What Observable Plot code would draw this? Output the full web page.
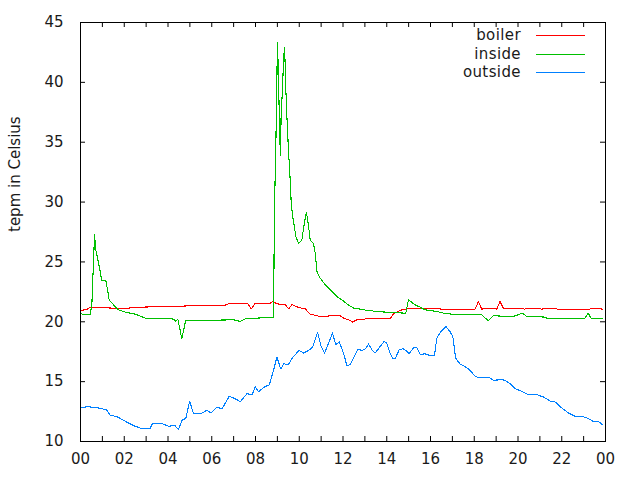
<!DOCTYPE html>
<html><head><meta charset="utf-8">
<script src="https://cdn.jsdelivr.net/npm/d3@7"></script>
<script src="https://cdn.jsdelivr.net/npm/@observablehq/plot@0.6"></script>
<style>
body{margin:0;background:#fff;}
#wrap{width:640px;height:480px;}
</style></head><body><div id="wrap"></div>
<script>
// ---- data ----
const seriesNames = ["boiler", "inside", "outside"];
const seriesColors = ["#ff0000", "#00c000", "#0080ff"];

const boilerHours = [0,0.3,0.44,0.82,1.5,2.19,2.5,3.26,4.32,4.5,5.39,6.07,6.62,6.77,7.66,7.81,7.96,8.22,8.68,8.8,8.98,9.36,9.51,9.67,9.97,10.27,10.5,10.96,11.49,11.87,12.02,12.25,12.45,12.63,12.94,13.09,13.39,13.55,14.16,14.31,14.46,14.69,14.92,15.45,16.44,16.47,18.04,18.19,18.34,18.8,19.03,19.18,19.33,19.86,20.02,20.3,20.5,20.78,21.08,21.62,21.8,23.29,23.44,23.85];
const boilerValues = [20.94,21.03,21.2,21.19,21.14,21.14,21.2,21.25,21.25,21.3,21.36,21.36,21.39,21.5,21.5,21.08,21.5,21.56,21.56,21.69,21.5,21.42,21.08,21.44,21.19,21.08,20.64,20.44,20.5,20.5,20.31,20.17,19.97,20.17,20.17,20.31,20.31,20.25,20.25,20.67,20.81,21.0,21.08,21.14,21.14,21.06,21.06,21.69,21.06,21.14,21.06,21.69,21.14,21.08,21.14,21.06,21.14,21.14,21.06,21.14,21.06,21.06,21.14,21.06];

const insideHours = [0,0.14,0.44,0.52,0.55,0.59,0.64,0.7,0.78,0.9,0.97,1.16,1.25,1.31,1.51,1.74,2.04,2.5,2.95,3.79,4.25,4.35,4.45,4.55,4.63,4.7,4.81,5.71,7.0,7.31,7.53,8.3,8.83,8.86,8.93,8.98,9.0,9.03,9.07,9.11,9.14,9.17,9.23,9.28,9.32,9.35,9.38,9.42,9.47,9.52,9.57,9.63,9.7,9.85,9.97,10.12,10.23,10.33,10.42,10.5,10.65,10.73,10.81,10.96,11.19,11.5,11.72,11.95,12.18,12.48,12.71,12.94,13.55,14.16,14.87,14.99,15.3,15.53,15.75,16.29,16.59,16.98,17.58,18.34,18.64,18.87,19.78,20.2,20.4,20.7,21.23,21.3,23.06,23.21,23.33,23.85];
const insideValues = [20.72,20.58,20.58,21.42,23.08,24.75,27.25,26.0,25.31,24.19,23.42,23.42,22.53,21.83,21.42,21.0,20.81,20.64,20.31,20.31,20.22,20.03,20.22,19.33,18.56,19.19,20.11,20.11,20.17,20.03,20.25,20.33,20.33,28.9,34.75,40.44,43.36,41.83,38.78,35.44,33.92,37.11,39.33,41.69,42.89,41.83,39.75,37.81,35.72,33.92,32.39,30.03,28.78,27.11,26.56,26.83,28.22,29.14,28.08,26.83,26.56,25.72,24.19,23.64,23.08,22.53,22.11,21.83,21.5,21.14,21.08,21.0,20.86,20.78,20.72,21.83,21.42,21.22,21.0,20.86,20.72,20.64,20.58,20.58,20.08,20.5,20.44,20.72,20.44,20.44,20.39,20.31,20.31,20.72,20.31,20.31];

const outsideHours = [0,0.37,0.82,1.2,1.35,1.66,2.04,2.42,2.8,3.18,3.29,3.71,4.02,4.32,4.47,4.66,4.81,4.99,5.16,5.54,5.77,5.98,6.24,6.47,6.8,7.08,7.31,7.61,7.84,7.99,8.14,8.45,8.63,8.83,8.98,9.15,9.3,9.48,9.74,10.0,10.2,10.43,10.61,10.84,10.99,11.16,11.34,11.52,11.67,11.83,12.02,12.18,12.33,12.68,12.86,13.01,13.17,13.32,13.47,13.7,13.88,14.0,14.12,14.26,14.38,14.57,14.76,14.92,15.02,15.22,15.37,15.53,15.75,15.98,16.18,16.29,16.48,16.7,16.89,17.02,17.15,17.35,17.58,17.78,18.04,18.26,18.72,18.87,19.26,19.41,19.63,19.86,20.17,20.47,20.85,21.16,21.54,21.69,22.0,22.3,22.6,22.91,23.14,23.44,23.67,23.85];
const outsideValues = [12.85,12.9,12.8,12.64,12.2,12.08,11.7,11.33,11.08,11.08,11.5,11.5,11.28,11.33,11.0,11.83,11.9,13.36,12.36,12.36,12.6,12.39,12.89,12.72,13.78,13.56,13.33,14.0,13.89,14.56,14.17,14.61,14.72,16.0,17.06,16.06,16.5,16.39,17.11,17.61,17.39,17.61,17.89,19.11,18.0,17.39,18.22,19.06,18.08,18.31,17.39,16.33,16.42,17.72,17.61,17.72,18.14,17.67,17.39,17.94,18.36,18.22,17.53,16.97,16.89,17.67,17.75,17.53,17.33,17.81,17.86,17.25,17.33,17.17,17.17,18.64,19.19,19.61,19.19,18.78,16.97,16.47,16.25,16.0,15.44,15.31,15.31,15.11,15.17,15.11,14.83,14.42,14.19,13.92,13.92,13.72,13.31,13.31,12.81,12.39,12.11,12.11,11.97,11.69,11.69,11.42];

const xTicks = [0,2,4,6,8,10,12,14,16,18,20,22,24];
const xTickLabels = ["00","02","04","06","08","10","12","14","16","18","20","22","00"];
const xMinorTicks = [1,3,5,7,9,11,13,15,17,19,21,23];
const yTicks = [10,15,20,25,30,35,40,45];
const yLabel = "tepm in Celsius";

// ---- build table ----
const seriesHours = [boilerHours, insideHours, outsideHours];
const seriesValues = [boilerValues, insideValues, outsideValues];
const rows = [];
seriesNames.forEach((name, s) => {
  seriesHours[s].forEach((h, i) => rows.push({series: name, hour: h, temp: seriesValues[s][i]}));
});

// ---- layout ----
const W = 640, H = 480, mL = 80, mR = 35, mT = 22, mB = 39;
const fw = W - mL - mR, fh = H - mT - mB;
const tickLen = 5;
const font = '"DejaVu Sans", sans-serif';
const textColor = "#1a1a1a";

const chart = Plot.plot({
  width: W, height: H,
  marginLeft: mL, marginRight: mR, marginTop: mT, marginBottom: mB,
  style: {fontFamily: font, fontSize: "15px", color: textColor, background: "#fff"},
  x: {domain: [0, 24]},
  y: {domain: [10, 45]},
  color: {domain: seriesNames, range: seriesColors},
  marks: [
    Plot.line(rows, {x: "hour", y: "temp", z: "series", stroke: "series", strokeWidth: 1.1, shapeRendering: "crispEdges"}),
    Plot.frame({stroke: "#000"}),
    // inward ticks, bottom and top
    Plot.ruleX(xTicks.concat(xMinorTicks), {x: d => d, insetTop: fh - tickLen, stroke: "#000"}),
    Plot.ruleX(xTicks.concat(xMinorTicks), {x: d => d, insetBottom: fh - tickLen, stroke: "#000"}),
    // inward ticks, left and right
    Plot.ruleY(yTicks, {y: d => d, insetRight: fw - tickLen, stroke: "#000"}),
    Plot.ruleY(yTicks, {y: d => d, insetLeft: fw - tickLen, stroke: "#000"}),
    Plot.axisX(xTicks, {tickSize: 0, tickPadding: 12, label: null, tickFormat: d => xTickLabels[xTicks.indexOf(d)], fill: textColor}),
    Plot.axisY(yTicks, {tickSize: 0, tickPadding: 17, label: null, fill: textColor}),
    Plot.text([yLabel], {text: d => d, frameAnchor: "left", dx: -65, rotate: -90, fontSize: 15, fill: textColor})
  ]
});

// ---- legend (top right, inside frame) ----
const svg = d3.select(chart);
const leg = svg.append("g").attr("font-family", font).attr("font-size", 15);
seriesNames.forEach((name, i) => {
  const y = 35 + i * 18.5;
  leg.append("text").attr("x", 521).attr("y", y).attr("dy", "0.35em")
    .attr("text-anchor", "end").attr("fill", textColor).attr("letter-spacing", "0.4px").text(name);
  leg.append("line").attr("x1", 536).attr("x2", 585).attr("y1", Math.round(y) + 0.5).attr("y2", Math.round(y) + 0.5)
    .attr("stroke", seriesColors[i]).attr("stroke-width", 1);
});

document.getElementById("wrap").appendChild(chart);
</script>
</body></html>
